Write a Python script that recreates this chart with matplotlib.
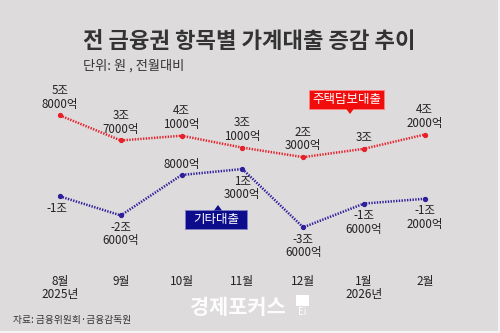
import matplotlib
matplotlib.use("Agg")
import matplotlib.pyplot as plt
from matplotlib.patches import Rectangle, Polygon

plt.rcParams['font.family'] = ['Noto Sans CJK KR', 'DejaVu Sans']

months = ['8월\n2025년', '9월', '10월', '11월', '12월', '1월\n2026년', '2월']
mortgage = [5.8, 3.7, 4.1, 3.1, 2.3, 3.0, 4.2]
other = [-1.0, -2.6, 0.8, 1.3, -3.6, -1.6, -1.2]
mortgage_labels = ['5조\n8000억', '3조\n7000억', '4조\n1000억', '3조\n1000억', '2조\n3000억', '3조', '4조\n2000억']
other_labels = ['-1조', '-2조\n6000억', '8000억', '1조\n3000억', '-3조\n6000억', '-1조\n6000억', '-1조\n2000억']
other_label_above = [False, False, True, False, False, False, False]

title = '전 금융권 항목별 가계대출 증감 추이'
subtitle = '단위: 원 , 전월대비'
source = '자료: 금융위원회·금융감독원'

W, H = 500, 333
bg = '#dddbdc'
fig = plt.figure(figsize=(W / 100, H / 100), dpi=100, facecolor=bg)

# axes spans whole figure; x index -> pixel 60 + 60.8*i ; value v -> pixel 184.5 - 11.9*v
ax = fig.add_axes([0, 0, 1, 1])
ax.set_facecolor(bg)
x0, dx = 60.0, 60.8
y0, dy = 184.5, 11.9
ax.set_xlim(-x0 / dx, (W - x0) / dx)
ax.set_ylim((y0 - H) / dy, y0 / dy)
ax.axis('off')

xs = list(range(len(months)))
red = '#e8202a'
navy_line = '#2e1f9c'

ax.plot(xs, mortgage, color=red, lw=1.8, linestyle=(0, (0.55, 0.55)), zorder=3)
ax.plot(xs, mortgage, 'o', color=red, ms=2.8, zorder=4)
ax.plot(xs, other, color=navy_line, lw=1.8, linestyle=(0, (0.55, 0.55)), zorder=3)
ax.plot(xs, other, 'o', color=navy_line, ms=2.8, zorder=4)

lab_kw = dict(fontsize=8.3, color='#222222', ha='center', linespacing=1.05, zorder=5)
for i, (v, t) in enumerate(zip(mortgage, mortgage_labels)):
    ax.annotate(t, (i, v), xytext=(0, 3.5), textcoords='offset points', va='bottom', **lab_kw)
for i, (v, t, up) in enumerate(zip(other, other_labels, other_label_above)):
    if up:
        ax.annotate(t, (i, v), xytext=(0, 3), textcoords='offset points', va='bottom', **lab_kw)
    else:
        dxo = -2 if i == 0 else 0
        ax.annotate(t, (i, v), xytext=(dxo, -4), textcoords='offset points', va='top', **lab_kw)

# x tick labels
for i, m in enumerate(months):
    fig.text((x0 + dx * i) / W, 1 - 275 / H, m, fontsize=8.5, color='#222222',
             ha='center', va='top', linespacing=1.0)

# Title & subtitle
fig.text(83 / W, 1 - 42 / H, title, fontsize=16, fontweight='bold', color='#333333',
         ha='left', va='center')
fig.text(83 / W, 1 - 66 / H, subtitle, fontsize=9.5, color='#333333', ha='left', va='center')
fig.text(13 / W, 1 - 320 / H, source, fontsize=7, color='#333333', ha='left', va='center')

def px(x, y):
    return (x / W, 1 - y / H)

red_box = '#f20d0d'
navy_box = '#0c0c8c'
fig.patches.append(Rectangle(px(309, 109), 75 / W, 19 / H, transform=fig.transFigure,
                             facecolor=red_box, edgecolor='#ff8080', lw=0.6, zorder=6))
fig.patches.append(Polygon([px(346, 108.5), px(354, 108.5), px(350, 114)], closed=True,
                           transform=fig.transFigure, facecolor=red_box, edgecolor='none', zorder=6))
fig.text(346.5 / W, 1 - 99.5 / H, '주택담보대출', fontsize=9, color='white', ha='center', va='center', zorder=7)

fig.patches.append(Rectangle(px(185, 229), 62 / W, 19 / H, transform=fig.transFigure,
                             facecolor=navy_box, edgecolor='#8080c0', lw=0.6, zorder=6))
fig.patches.append(Polygon([px(214, 210.5), px(222, 210.5), px(218, 205)], closed=True,
                           transform=fig.transFigure, facecolor=navy_box, edgecolor='none', zorder=6))
fig.text(216 / W, 1 - 219.5 / H, '기타대출', fontsize=9, color='white', ha='center', va='center', zorder=7)

# watermark
fig.text(190 / W, 1 - 307 / H, '경제포커스', fontsize=15, fontweight='bold', color='white',
         ha='left', va='center', alpha=0.95)
fig.patches.append(Rectangle(px(296, 306), 13 / W, 11 / H, transform=fig.transFigure,
                             facecolor='white', edgecolor='none', zorder=6))
fig.text(302 / W, 1 - 312 / H, 'Ei', fontsize=7, color='white', ha='center', va='center')

# thin light border bottom/right
fig.patches.append(Rectangle((0, 0), 1, 2 / H, transform=fig.transFigure, facecolor='#f4f4f4', edgecolor='none'))
fig.patches.append(Rectangle((1 - 2 / W, 0), 2 / W, 1, transform=fig.transFigure, facecolor='#f4f4f4', edgecolor='none'))

fig.savefig('out.png', dpi=100, facecolor=bg)
